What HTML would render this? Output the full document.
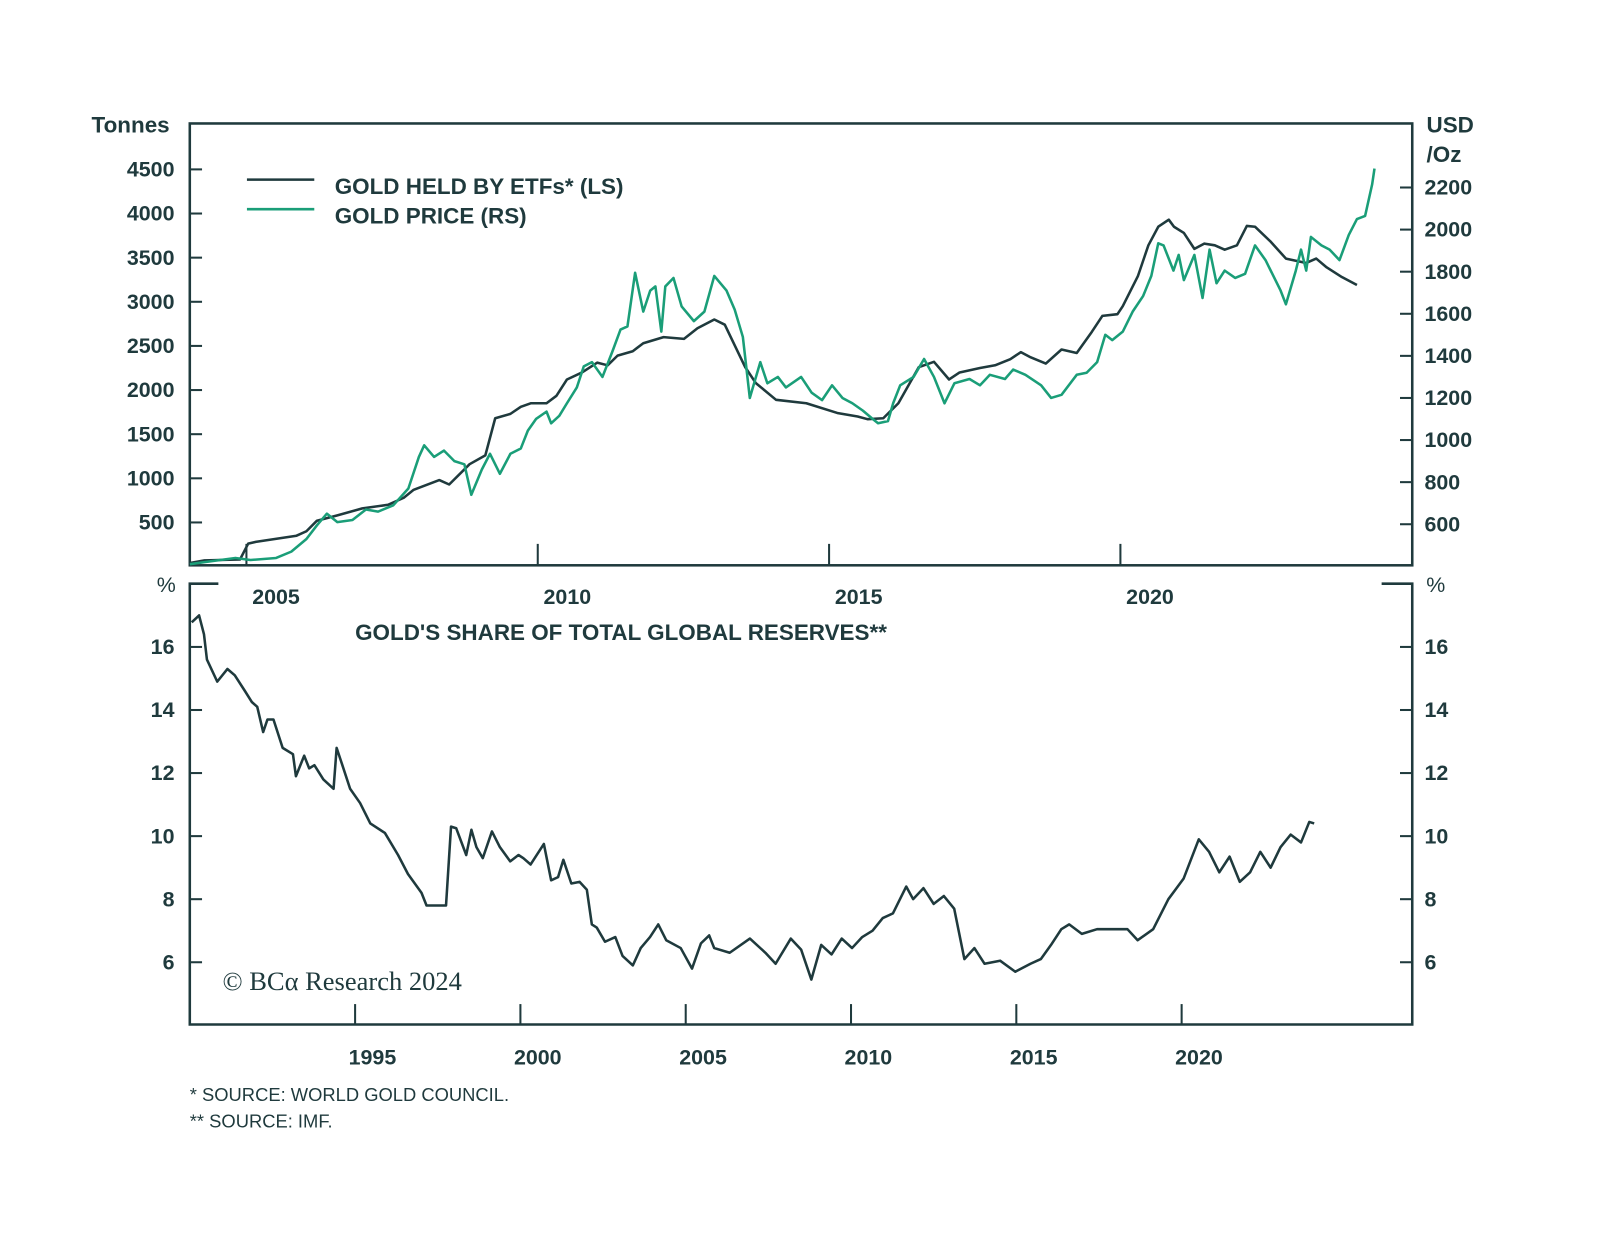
<!DOCTYPE html>
<html><head><meta charset="utf-8"><style>
body{margin:0;background:#fff;}
svg text{font-family:"Liberation Sans",sans-serif;fill:#1f3a3d;font-weight:bold;}
</style></head><body>
<svg id="c" width="1600" height="1237" viewBox="0 0 1600 1237" xmlns="http://www.w3.org/2000/svg">
<rect width="1600" height="1237" fill="#fff"/>
<g transform="scale(1.020408)">
<g id="top"></g>
<g id="bot"></g>
</g>
</svg>
<script>
const etfYears=[2004.03,2004.28,2004.89,2005.03,2005.16,2005.86,2006.03,2006.21,2006.56,2006.99,2007.43,2007.70,2007.87,2008.31,2008.48,2008.83,2009.10,2009.27,2009.53,2009.71,2009.88,2010.15,2010.32,2010.50,2010.76,2011.02,2011.20,2011.37,2011.63,2011.81,2012.16,2012.51,2012.74,2013.03,2013.21,2013.56,2013.74,2014.09,2014.61,2015.14,2015.49,2015.66,2015.93,2016.19,2016.54,2016.80,2017.06,2017.24,2017.59,2017.85,2018.11,2018.29,2018.46,2018.72,2018.99,2019.25,2019.51,2019.69,2019.95,2020.04,2020.30,2020.48,2020.65,2020.83,2020.92,2021.09,2021.27,2021.44,2021.62,2021.79,2022.00,2022.17,2022.31,2022.58,2022.84,2023.19,2023.36,2023.54,2023.80,2024.06];
const etfTonnes=[40,70,80,260,280,350,400,520,580,660,700,780,870,980,930,1160,1260,1680,1730,1810,1850,1850,1935,2120,2200,2310,2280,2390,2440,2530,2600,2580,2700,2800,2740,2260,2080,1890,1850,1740,1700,1670,1680,1850,2260,2320,2120,2200,2250,2280,2350,2430,2370,2300,2460,2420,2660,2840,2860,2950,3290,3640,3850,3930,3850,3780,3600,3660,3640,3590,3640,3860,3850,3680,3490,3440,3490,3390,3280,3190];
const priceYears=[2004.03,2004.28,2004.81,2005.07,2005.51,2005.77,2006.03,2006.21,2006.38,2006.56,2006.82,2007.05,2007.26,2007.52,2007.78,2007.96,2008.05,2008.22,2008.39,2008.57,2008.74,2008.86,2009.04,2009.18,2009.35,2009.53,2009.71,2009.83,2009.97,2010.15,2010.23,2010.37,2010.50,2010.67,2010.79,2010.93,2011.11,2011.28,2011.42,2011.54,2011.67,2011.81,2011.93,2012.02,2012.12,2012.19,2012.33,2012.47,2012.68,2012.86,2013.03,2013.24,2013.38,2013.52,2013.64,2013.82,2013.94,2014.12,2014.26,2014.52,2014.70,2014.88,2015.05,2015.23,2015.40,2015.58,2015.75,2015.84,2016.01,2016.10,2016.22,2016.45,2016.63,2016.80,2016.98,2017.15,2017.41,2017.59,2017.76,2018.02,2018.16,2018.37,2018.64,2018.81,2018.99,2019.25,2019.42,2019.60,2019.74,2019.86,2020.04,2020.21,2020.39,2020.53,2020.65,2020.74,2020.91,2021.00,2021.09,2021.27,2021.41,2021.53,2021.65,2021.79,2021.97,2022.14,2022.31,2022.49,2022.75,2022.84,2023.01,2023.10,2023.19,2023.27,2023.45,2023.59,2023.76,2023.92,2024.06,2024.20,2024.32,2024.36];
const priceUsd=[410,420,440,430,440,470,530,595,650,610,620,670,660,690,770,920,975,920,950,900,885,740,860,935,840,935,960,1045,1100,1135,1080,1115,1175,1250,1350,1370,1300,1420,1525,1540,1795,1610,1710,1730,1515,1730,1770,1635,1565,1610,1780,1710,1620,1490,1200,1370,1270,1300,1250,1300,1225,1190,1260,1200,1175,1140,1100,1080,1090,1175,1260,1300,1385,1300,1175,1270,1290,1260,1310,1290,1335,1310,1260,1200,1215,1310,1320,1370,1500,1475,1515,1610,1685,1780,1935,1925,1805,1880,1760,1880,1675,1905,1745,1805,1770,1790,1925,1855,1710,1645,1805,1905,1805,1965,1925,1905,1855,1975,2050,2065,2215,2290];
const shareYears=[1990.06,1990.28,1990.43,1990.52,1990.83,1991.14,1991.36,1991.67,1991.88,1992.04,1992.22,1992.35,1992.53,1992.81,1993.12,1993.21,1993.46,1993.61,1993.77,1994.04,1994.35,1994.44,1994.60,1994.85,1995.15,1995.46,1995.90,1996.30,1996.60,1997.01,1997.16,1997.62,1997.75,1997.90,1998.06,1998.36,1998.52,1998.67,1998.86,1999.14,1999.38,1999.69,1999.94,2000.09,2000.31,2000.71,2000.93,2001.14,2001.30,2001.54,2001.79,2002.01,2002.16,2002.31,2002.56,2002.87,2003.09,2003.40,2003.64,2003.92,2004.17,2004.41,2004.85,2005.19,2005.46,2005.71,2005.86,2006.33,2006.94,2007.41,2007.72,2008.18,2008.49,2008.80,2009.10,2009.41,2009.72,2010.03,2010.34,2010.65,2010.96,2011.27,2011.67,2011.88,2012.19,2012.50,2012.81,2013.12,2013.43,2013.73,2014.04,2014.51,2014.97,2015.43,2015.74,2016.05,2016.36,2016.60,2016.98,2017.44,2017.90,2018.36,2018.67,2019.14,2019.60,2020.06,2020.52,2020.83,2021.14,2021.45,2021.76,2022.07,2022.38,2022.69,2022.99,2023.30,2023.61,2023.86,2024.01];
const sharePct=[16.78,17.0,16.4,15.6,14.9,15.3,15.1,14.6,14.25,14.1,13.3,13.7,13.7,12.8,12.6,11.9,12.55,12.15,12.25,11.8,11.5,12.8,12.3,11.5,11.05,10.4,10.1,9.4,8.8,8.2,7.8,7.8,7.8,10.3,10.25,9.4,10.2,9.65,9.3,10.15,9.65,9.2,9.4,9.3,9.1,9.75,8.6,8.7,9.25,8.5,8.55,8.3,7.2,7.1,6.65,6.8,6.2,5.9,6.45,6.8,7.2,6.7,6.45,5.8,6.6,6.85,6.45,6.3,6.75,6.3,5.95,6.75,6.4,5.45,6.55,6.25,6.75,6.45,6.8,7.0,7.4,7.55,8.4,8.0,8.35,7.85,8.1,7.7,6.1,6.45,5.95,6.05,5.7,5.95,6.1,6.55,7.05,7.2,6.9,7.05,7.05,7.05,6.7,7.05,8.0,8.65,9.9,9.5,8.85,9.35,8.55,8.85,9.5,9.0,9.65,10.05,9.8,10.45,10.4];
const tonTicks=[500,1000,1500,2000,2500,3000,3500,4000,4500];
const usdTicks=[600,800,1000,1200,1400,1600,1800,2000,2200];
const topYearTicks=[2005,2010,2015,2020];
const pctTicks=[6,8,10,12,14,16];
const botYearTicks=[1995,2000,2005,2010,2015,2020];

const NS="http://www.w3.org/2000/svg";
const DARK="#1f3a3d", GREEN="#1a9e78";
function mk(p,tag,attrs,txt){const e=document.createElementNS(NS,tag);for(const k in attrs)e.setAttribute(k,attrs[k]);if(txt!==undefined)e.textContent=txt;p.appendChild(e);return e;}
const topG=document.getElementById('top'), botG=document.getElementById('bot');
const xTop=y=>184.4+57.1*(y-2004);
const yTon=v=>555.25-v*0.0865;
const yUsd=p=>555-(p-400)*0.20625;
const xBot=y=>186+32.4*(y-1990);
const yPct=v=>1004.8-(v-4)*30.9;

let e=mk(topG,'rect',{x:186,y:121,width:1198,height:433,fill:'none',stroke:DARK,'stroke-width':2.5});

tonTicks.forEach(t=>{const y=yTon(t);
 let l=mk(topG,'line',{x1:186,x2:198,y1:y,y2:y,stroke:DARK,'stroke-width':2});
 
 let tx=mk(topG,'text',{x:171,y:y+7,'text-anchor':'end','font-size':21},String(t));
 });
usdTicks.forEach(t=>{const y=yUsd(t);
 let l=mk(topG,'line',{x1:1372,x2:1384,y1:y,y2:y,stroke:DARK,'stroke-width':2});
 
 let tx=mk(topG,'text',{x:1396,y:y+7,'font-size':21},String(t));
 });
topYearTicks.forEach(t=>{const x=xTop(t);
 let l=mk(topG,'line',{x1:x,x2:x,y1:533,y2:554,stroke:DARK,'stroke-width':2});
 
 let tx=mk(topG,'text',{x:x+29,y:592,'text-anchor':'middle','font-size':21},String(t));
 });
e=mk(topG,'text',{x:128,y:130,'text-anchor':'middle','font-size':22},'Tonnes');

e=mk(topG,'text',{x:1398,y:130,'font-size':22},'USD');

e=mk(topG,'text',{x:1398,y:159,'font-size':22},'/Oz');

e=mk(topG,'line',{x1:242,x2:308,y1:176,y2:176,stroke:DARK,'stroke-width':2.5});

e=mk(topG,'text',{x:328,y:190,'font-size':22},'GOLD HELD BY ETFs* (LS)');

e=mk(topG,'line',{x1:242,x2:308,y1:205,y2:205,stroke:GREEN,'stroke-width':2.5});

e=mk(topG,'text',{x:328,y:219,'font-size':22},'GOLD PRICE (RS)');

e=mk(topG,'polyline',{points:etfYears.map((y,i)=>xTop(y).toFixed(1)+','+yTon(etfTonnes[i]).toFixed(1)).join(' '),fill:'none',stroke:DARK,'stroke-width':2.5,'stroke-linejoin':'round'});

e=mk(topG,'polyline',{points:priceYears.map((y,i)=>xTop(y).toFixed(1)+','+yUsd(priceUsd[i]).toFixed(1)).join(' '),fill:'none',stroke:GREEN,'stroke-width':2.5,'stroke-linejoin':'round'});


e=mk(botG,'path',{d:'M214,572 H186 V1004 H1384 V572 H1354',fill:'none',stroke:DARK,'stroke-width':2.5});

pctTicks.forEach(t=>{const y=yPct(t);
 let l=mk(botG,'line',{x1:186,x2:198,y1:y,y2:y,stroke:DARK,'stroke-width':2});
 
 let l2=mk(botG,'line',{x1:1372,x2:1384,y1:y,y2:y,stroke:DARK,'stroke-width':2});
 
 let tx=mk(botG,'text',{x:171,y:y+7,'text-anchor':'end','font-size':21},String(t));
 
 let tx2=mk(botG,'text',{x:1396,y:y+7,'font-size':21},String(t));
 });
botYearTicks.forEach(t=>{const x=xBot(t);
 let l=mk(botG,'line',{x1:x,x2:x,y1:984,y2:1004,stroke:DARK,'stroke-width':2});
 
 let tx=mk(botG,'text',{x:x+17,y:1043,'text-anchor':'middle','font-size':21},String(t));
 });
e=mk(botG,'text',{x:163,y:580,'text-anchor':'middle','font-size':21,style:'font-weight:normal'},'%');

e=mk(botG,'text',{x:1407,y:580,'text-anchor':'middle','font-size':21,style:'font-weight:normal'},'%');

e=mk(botG,'text',{x:348,y:627,'font-size':22},"GOLD'S SHARE OF TOTAL GLOBAL RESERVES**");

e=mk(botG,'polyline',{points:shareYears.map((y,i)=>xBot(y).toFixed(1)+','+yPct(sharePct[i]).toFixed(1)).join(' '),fill:'none',stroke:DARK,'stroke-width':2.5,'stroke-linejoin':'round'});

e=mk(botG,'text',{x:218,y:970,'font-size':26,style:'font-family:"Liberation Serif",serif;font-weight:normal'},'© BCα Research 2024');

e=mk(botG,'text',{x:186,y:1079,'font-size':18,style:'font-weight:normal'},'*   SOURCE: WORLD GOLD COUNCIL.');

e=mk(botG,'text',{x:186,y:1105,'font-size':18,style:'font-weight:normal'},'**  SOURCE: IMF.');

</script>
</body></html>
